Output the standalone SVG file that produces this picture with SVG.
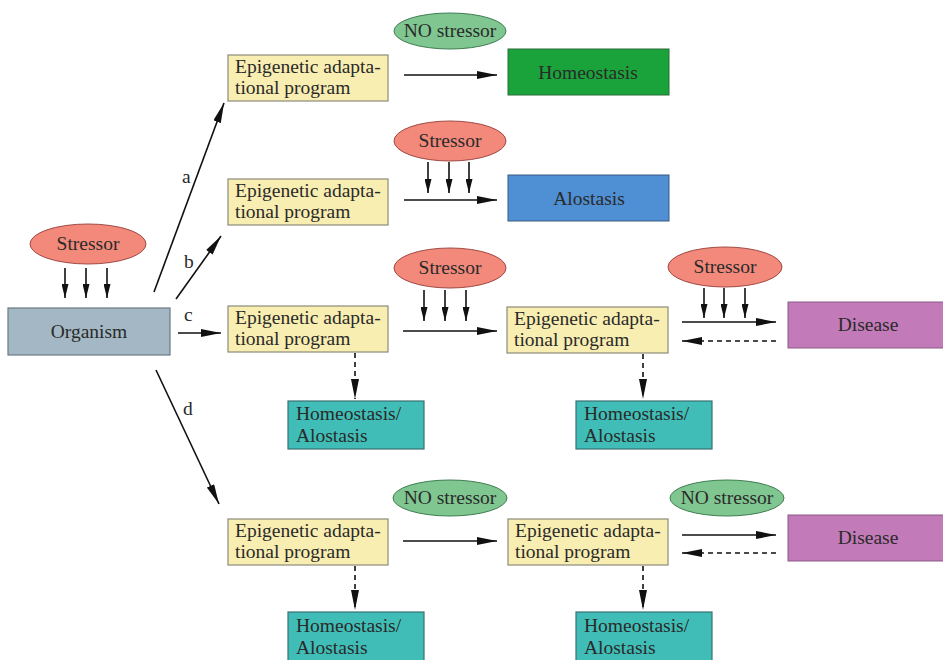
<svg xmlns="http://www.w3.org/2000/svg" width="943" height="660" viewBox="0 0 943 660">
<style>
text{font-family:"Liberation Serif","DejaVu Serif",serif;font-size:19.5px;fill:#2a2a2a}
.epi{fill:#f9eeb1;stroke:#8a8a7a;stroke-width:1.2}
.st{fill:#f2897b;stroke:#a04a44;stroke-width:1}
.no{fill:#80c690;stroke:#3f7e52;stroke-width:1}
.hal{fill:#3fbdb6;stroke:#3a6f74;stroke-width:1.2}
.dis{fill:#c37ab8;stroke:#8a5a86;stroke-width:1}
.ln{stroke:#111;stroke-width:1.6;fill:none}
.dash{stroke-dasharray:5,4}
.mid{text-anchor:middle}
</style>
<defs>
<marker id="ah" viewBox="0 0 20 8" refX="20" refY="4" markerWidth="20" markerHeight="8" markerUnits="userSpaceOnUse" orient="auto">
<path d="M0,0 L20,4 L0,8 Z" fill="#111"/>
</marker>
<marker id="ahs" viewBox="0 0 16 8" refX="16" refY="4" markerWidth="16" markerHeight="7" markerUnits="userSpaceOnUse" orient="auto">
<path d="M0,0 L16,4 L0,8 Z" fill="#111"/>
</marker>
</defs>

<g id="stressor0"><ellipse class="st" cx="88" cy="244" rx="58" ry="20"/><text class="mid" x="88" y="250">Stressor</text></g>
<g id="organism"><rect x="8" y="308" width="162" height="47" fill="#a3b8c4" stroke="#6a7a84" stroke-width="1.2"/><text class="mid" x="89" y="338">Organism</text></g>

<g id="epiA"><rect class="epi" x="228" y="55" width="160" height="46"/><text x="235" y="73">Epigenetic adapta-</text><text x="235" y="94">tional program</text></g>
<g id="noStressA"><ellipse class="no" cx="450" cy="31" rx="56" ry="18"/><text class="mid" x="450" y="37">NO stressor</text></g>
<g id="homeo"><rect x="508" y="49" width="161" height="46" fill="#1aa33b" stroke="#2d6b3a" stroke-width="1"/><text class="mid" x="588" y="79">Homeostasis</text></g>

<g id="epiB"><rect class="epi" x="228" y="179" width="160" height="46"/><text x="235" y="197">Epigenetic adapta-</text><text x="235" y="218">tional program</text></g>
<g id="stressB"><ellipse class="st" cx="450" cy="141" rx="56" ry="20"/><text class="mid" x="450" y="147">Stressor</text></g>
<g id="alo"><rect x="508" y="175" width="161" height="46" fill="#4f8fd3" stroke="#3a5a80" stroke-width="1"/><text class="mid" x="589" y="205">Alostasis</text></g>

<g id="epiC1"><rect class="epi" x="228" y="306" width="160" height="46"/><text x="235" y="324">Epigenetic adapta-</text><text x="235" y="345">tional program</text></g>
<g id="stressC1"><ellipse class="st" cx="450" cy="268" rx="56" ry="20"/><text class="mid" x="450" y="274">Stressor</text></g>
<g id="epiC2"><rect class="epi" x="507" y="307" width="161" height="46"/><text x="514" y="325">Epigenetic adapta-</text><text x="514" y="346">tional program</text></g>
<g id="stressC2"><ellipse class="st" cx="725" cy="267" rx="57" ry="20"/><text class="mid" x="725" y="273">Stressor</text></g>
<g id="disC"><rect class="dis" x="788" y="302" width="160" height="46"/><text class="mid" x="868" y="331">Disease</text></g>
<g id="halC1"><rect class="hal" x="288" y="401" width="136" height="48"/><text x="296" y="420">Homeostasis/</text><text x="296" y="442">Alostasis</text></g>
<g id="halC2"><rect class="hal" x="576" y="401" width="136" height="48"/><text x="584" y="420">Homeostasis/</text><text x="584" y="442">Alostasis</text></g>

<g id="epiD1"><rect class="epi" x="228" y="519" width="160" height="46"/><text x="235" y="537">Epigenetic adapta-</text><text x="235" y="558">tional program</text></g>
<g id="noStressD1"><ellipse class="no" cx="450" cy="498" rx="57" ry="18"/><text class="mid" x="450" y="504">NO stressor</text></g>
<g id="epiD2"><rect class="epi" x="508" y="519" width="160" height="46"/><text x="515" y="537">Epigenetic adapta-</text><text x="515" y="558">tional program</text></g>
<g id="noStressD2"><ellipse class="no" cx="727" cy="498" rx="57" ry="18"/><text class="mid" x="727" y="504">NO stressor</text></g>
<g id="disD"><rect class="dis" x="788" y="515" width="160" height="46"/><text class="mid" x="868" y="544">Disease</text></g>
<g id="halD1"><rect class="hal" x="288" y="612" width="136" height="52"/><text x="296" y="632">Homeostasis/</text><text x="296" y="654">Alostasis</text></g>
<g id="halD2"><rect class="hal" x="576" y="612" width="136" height="52"/><text x="584" y="632">Homeostasis/</text><text x="584" y="654">Alostasis</text></g>

<g id="connectors">
<line class="ln" x1="65" y1="268" x2="65" y2="298" marker-end="url(#ahs)"/>
<line class="ln" x1="86" y1="268" x2="86" y2="298" marker-end="url(#ahs)"/>
<line class="ln" x1="107" y1="268" x2="107" y2="298" marker-end="url(#ahs)"/>
<line class="ln" x1="154" y1="292" x2="224" y2="103" marker-end="url(#ah)"/>
<line class="ln" x1="176" y1="299" x2="221" y2="236" marker-end="url(#ah)"/>
<line class="ln" x1="178" y1="333" x2="221" y2="333" marker-end="url(#ah)"/>
<line class="ln" x1="156" y1="370" x2="219" y2="504" marker-end="url(#ah)"/>
<text x="182" y="183">a</text>
<text x="184" y="268">b</text>
<text x="184" y="321">c</text>
<text x="183" y="415">d</text>
<line class="ln" x1="404" y1="75" x2="497" y2="75" marker-end="url(#ah)"/>
<line class="ln" x1="428" y1="162" x2="428" y2="193" marker-end="url(#ahs)"/>
<line class="ln" x1="449" y1="162" x2="449" y2="193" marker-end="url(#ahs)"/>
<line class="ln" x1="469" y1="162" x2="469" y2="193" marker-end="url(#ahs)"/>
<line class="ln" x1="404" y1="200" x2="497" y2="200" marker-end="url(#ah)"/>
<line class="ln" x1="424" y1="290" x2="424" y2="321" marker-end="url(#ahs)"/>
<line class="ln" x1="445" y1="290" x2="445" y2="321" marker-end="url(#ahs)"/>
<line class="ln" x1="466" y1="290" x2="466" y2="321" marker-end="url(#ahs)"/>
<line class="ln" x1="403" y1="331" x2="497" y2="331" marker-end="url(#ah)"/>
<line class="ln" x1="704" y1="288" x2="704" y2="318" marker-end="url(#ahs)"/>
<line class="ln" x1="724" y1="288" x2="724" y2="318" marker-end="url(#ahs)"/>
<line class="ln" x1="745" y1="288" x2="745" y2="318" marker-end="url(#ahs)"/>
<line class="ln" x1="682" y1="322" x2="776" y2="322" marker-end="url(#ah)"/>
<line class="ln dash" x1="776" y1="341" x2="682" y2="341" marker-end="url(#ah)"/>
<line class="ln dash" x1="355" y1="353" x2="355" y2="399" marker-end="url(#ah)"/>
<line class="ln dash" x1="643" y1="354" x2="643" y2="399" marker-end="url(#ah)"/>
<line class="ln" x1="403" y1="541" x2="497" y2="541" marker-end="url(#ah)"/>
<line class="ln" x1="682" y1="535" x2="776" y2="535" marker-end="url(#ah)"/>
<line class="ln dash" x1="776" y1="553" x2="682" y2="553" marker-end="url(#ah)"/>
<line class="ln dash" x1="355" y1="566" x2="355" y2="610" marker-end="url(#ah)"/>
<line class="ln dash" x1="643" y1="566" x2="643" y2="610" marker-end="url(#ah)"/>
</g>
</svg>
